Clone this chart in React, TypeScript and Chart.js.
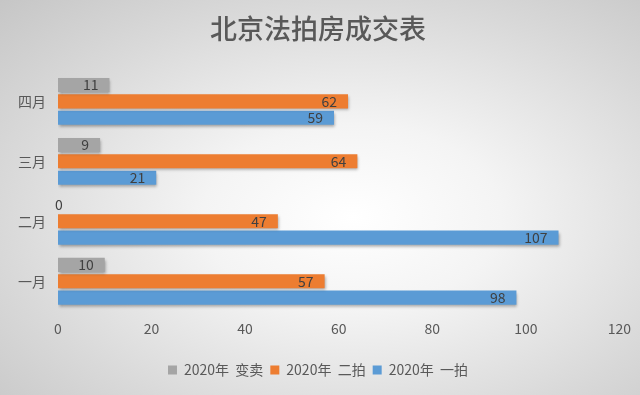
import React, { useEffect, useRef } from "react";
import { Chart, registerables } from "chart.js";

Chart.register(...registerables);

const title = "北京法拍房成交表";
const categories = ["一月", "二月", "三月", "四月"];
const seriesNames = ["2020年  变卖", "2020年  二拍", "2020年  一拍"];
const sellOff = [10, 0, 9, 11];
const secondAuction = [57, 47, 64, 62];
const firstAuction = [98, 107, 21, 59];
const xTicks = [0, 20, 40, 60, 80, 100, 120];
const colors = ["#A5A5A5", "#ED7D31", "#5B9BD5"];

const FONT = "'Noto Sans CJK SC', 'Noto Sans', sans-serif";

const shadowPlugin = {
  id: "barShadow",
  beforeDatasetsDraw(chart: any) {
    const ctx = chart.ctx;
    ctx.save();
    ctx.shadowColor = "rgba(0,0,0,0.35)";
    ctx.shadowBlur = 3;
    ctx.shadowOffsetX = 1;
    ctx.shadowOffsetY = 2;
  },
  afterDatasetsDraw(chart: any) {
    chart.ctx.restore();
  },
};

const labelPlugin = {
  id: "insideEndLabels",
  afterDatasetsDraw(chart: any) {
    const ctx = chart.ctx;
    ctx.save();
    ctx.font = `14px ${FONT}`;
    ctx.fillStyle = "#404040";
    ctx.textBaseline = "middle";
    chart.data.datasets.forEach((ds: any, di: number) => {
      const meta = chart.getDatasetMeta(di);
      meta.data.forEach((bar: any, i: number) => {
        const v = ds.data[i];
        const txt = String(v);
        if (v === 0) {
          ctx.textAlign = "center";
          ctx.fillText(txt, bar.base + 1, bar.y);
        } else {
          ctx.textAlign = "right";
          ctx.fillText(txt, bar.x - 11, bar.y);
        }
      });
    });
    ctx.restore();
  },
};

export default function App() {
  const ref = useRef<HTMLCanvasElement>(null);
  useEffect(() => {
    document.body.style.margin = "0";
    const chart = new Chart(ref.current as HTMLCanvasElement, {
      type: "bar",
      data: {
        labels: categories,
        datasets: [
          { label: seriesNames[0], data: sellOff, backgroundColor: colors[0] },
          { label: seriesNames[1], data: secondAuction, backgroundColor: colors[1] },
          { label: seriesNames[2], data: firstAuction, backgroundColor: colors[2] },
        ],
      },
      options: {
        indexAxis: "y",
        animation: false,
        responsive: false,
        maintainAspectRatio: false,
        categoryPercentage: 0.82,
        barPercentage: 0.86,
        layout: { padding: { left: 6, right: 10, top: 8, bottom: 8 } },
        scales: {
          x: {
            min: 0,
            max: 120,
            afterBuildTicks: (axis: any) => {
              axis.ticks = xTicks.map((v) => ({ value: v }));
            },
            afterFit: (axis: any) => {
              axis.height += 10;
            },
            grid: { display: false, drawTicks: false },
            border: { display: false },
            ticks: {
              color: "#595959",
              font: { size: 14, family: FONT },
              padding: 9,
            },
          },
          y: {
            reverse: true,
            grid: { display: false, drawTicks: false },
            border: { display: false },
            ticks: {
              color: "#595959",
              font: { size: 14, family: FONT },
              padding: 12,
            },
          },
        },
        plugins: {
          title: {
            display: true,
            text: title,
            color: "#595959",
            font: { size: 27, family: FONT, weight: "500" },
            padding: { top: 5, bottom: 26 },
          },
          legend: {
            display: true,
            position: "bottom",
            labels: {
              boxWidth: 9,
              boxHeight: 9,
              padding: 7,
              color: "#595959",
              font: { size: 14, family: FONT },
            },
          },
          tooltip: { enabled: false },
        },
      },
      plugins: [shadowPlugin, labelPlugin],
    } as any);
    return () => chart.destroy();
  }, []);
  return (
    <div
      style={{
        position: "absolute",
        left: 0,
        top: 0,
        width: 640,
        height: 395,
        background:
          "radial-gradient(ellipse at 55% 55%, #ffffff 0%, #f4f4f4 30%, #d9d9d9 70%, #c6c6c6 100%)",
      }}
    >
      <canvas ref={ref} width={640} height={395} style={{ display: "block" }} />
    </div>
  );
}
